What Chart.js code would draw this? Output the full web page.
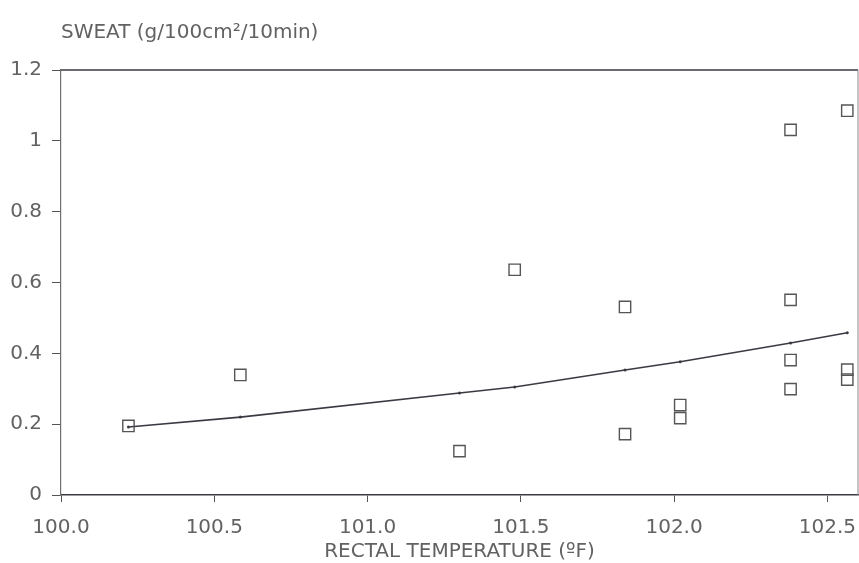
<!DOCTYPE html>
<html>
<head>
<style>
  body { margin: 0; background: #fff; }
</style>
</head>
<body>

<canvas id="myChart" width="859" height="563"></canvas>

<script src="https://cdn.jsdelivr.net/npm/chart.js"></script>
<script>
// observations: rectal temperature (F) vs sweat rate
const tempF = [100.22, 100.585, 101.30, 101.48, 101.84, 101.84, 102.02, 102.02,
               102.38, 102.38, 102.38, 102.38, 102.565, 102.565, 102.565];
const sweat = [0.195, 0.339, 0.124, 0.636, 0.531, 0.172, 0.254, 0.217,
               1.031, 0.551, 0.381, 0.299, 1.085, 0.354, 0.326];

// fitted curve, read at the same temperatures
const fitTemp  = [100.22, 100.585, 101.30, 101.48, 101.84, 102.02, 102.38, 102.565];
const fitSweat = [0.192, 0.220, 0.288, 0.305, 0.353, 0.376, 0.429, 0.458];

const xTicks = [100.0, 100.5, 101.0, 101.5, 102.0, 102.5];
const yTicks = [0, 0.2, 0.4, 0.6, 0.8, 1, 1.2];

const textColor = '#626262';
const fontFamily = '"DejaVu Sans", "Liberation Sans", sans-serif';

// top and right frame lines
const frame = {
    id: 'frame',
    afterDraw(chart) {
        const {ctx, chartArea: a} = chart;
        ctx.save();
        ctx.lineWidth = 1.5;
        ctx.strokeStyle = '#3a3a44';
        ctx.beginPath();
        ctx.moveTo(a.left, a.top);
        ctx.lineTo(a.right, a.top);
        ctx.stroke();
        ctx.strokeStyle = '#8a8a8a';
        ctx.lineWidth = 1;
        ctx.beginPath();
        ctx.moveTo(a.right, a.top);
        ctx.lineTo(a.right, a.bottom);
        ctx.stroke();
        ctx.restore();
    }
};

const ctx = document.getElementById('myChart').getContext('2d');
const myChart = new Chart(ctx, {
    type: 'scatter',
    data: {
        datasets: [
            {
                label: 'Sweat',
                data: tempF.map((t, i) => ({x: t, y: sweat[i]})),
                pointStyle: 'rect',
                pointRadius: 8,
                borderWidth: 1.4,
                borderColor: '#555',
                backgroundColor: 'rgba(0,0,0,0)'
            },
            {
                label: 'Fit',
                type: 'line',
                data: fitTemp.map((t, i) => ({x: t, y: fitSweat[i]})),
                showLine: true,
                borderColor: '#3a3a44',
                borderWidth: 1.6,
                pointRadius: 1.5,
                pointBackgroundColor: '#3a3a44',
                pointBorderWidth: 0,
                tension: 0
            }
        ]
    },
    options: {
        responsive: false,
        animation: false,
        layout: { autoPadding: false, padding: { left: 0, right: 1, top: 0, bottom: 0 } },
        plugins: {
            legend: { display: false },
            tooltip: { enabled: false },
            title: {
                display: true,
                text: 'SWEAT (g/100cm\u00B2/10min)',
                align: 'start',
                fullSize: false,
                color: textColor,
                font: { family: fontFamily, size: 20, weight: 'normal' },
                padding: { top: 21, bottom: 25 }
            }
        },
        scales: {
            x: {
                type: 'linear',
                min: 100,
                max: 102.6,
                afterBuildTicks: scale => { scale.ticks = xTicks.map(v => ({value: v})); },
                afterFit: scale => {
                    scale.height = 68;
                    scale.paddingLeft = 0;
                    scale.paddingRight = 0;
                },
                grid: { drawOnChartArea: false, drawTicks: true, tickLength: 7, color: '#555' },
                border: { display: true, color: '#3a3a44', width: 1.6 },
                ticks: {
                    color: textColor,
                    padding: 14,
                    maxRotation: 0,
                    font: { family: fontFamily, size: 20 },
                    callback: v => v.toFixed(1)
                },
                title: {
                    display: true,
                    text: 'RECTAL TEMPERATURE (\u00BAF)',
                    color: textColor,
                    font: { family: fontFamily, size: 20 },
                    padding: { top: 0, bottom: -1 }
                }
            },
            y: {
                min: 0,
                max: 1.2,
                afterBuildTicks: scale => { scale.ticks = yTicks.map(v => ({value: v})); },
                afterFit: scale => { scale.width = 61; },
                grid: { drawOnChartArea: false, drawTicks: true, tickLength: 9, color: '#555' },
                border: { display: true, color: '#707070', width: 1.2 },
                ticks: {
                    color: textColor,
                    padding: 10,
                    font: { family: fontFamily, size: 20 },
                    callback: v => String(v)
                }
            }
        }
    },
    plugins: [frame]
});
</script>

</body>
</html>
